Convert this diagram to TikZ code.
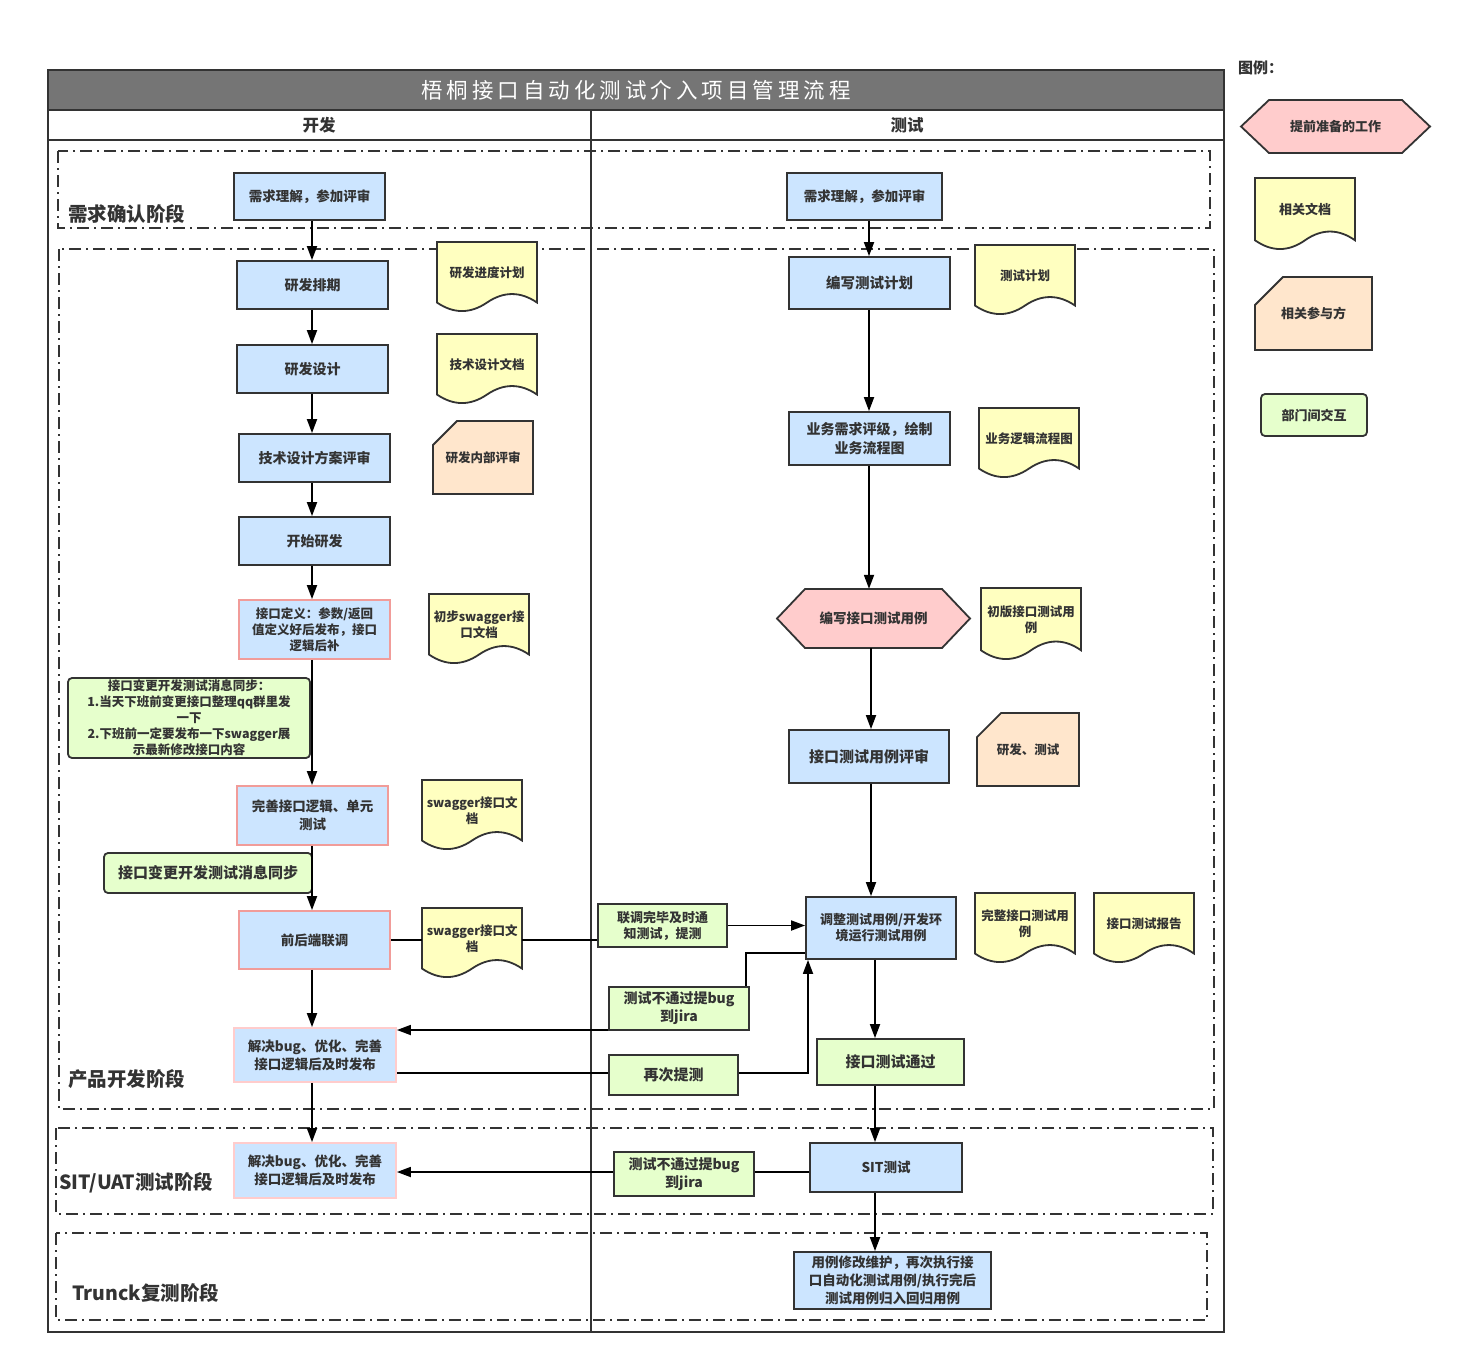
\documentclass[tikz,border=0pt]{standalone}
\usepackage{fontspec}
\setmainfont{Noto Sans CJK SC}
\usetikzlibrary{arrows.meta}
\definecolor{bd}{HTML}{333333}
\definecolor{txt}{HTML}{333333}
\definecolor{blueF}{HTML}{CCE5FF}
\definecolor{pinkA}{HTML}{F19C99}
\definecolor{pinkB}{HTML}{FFCCCC}
\definecolor{greenF}{HTML}{E6FFCC}
\definecolor{yellowF}{HTML}{FFFFC0}
\definecolor{orangeF}{HTML}{FFE6CC}
\definecolor{hexF}{HTML}{FFCCCC}
\definecolor{titleF}{HTML}{757575}
\newcommand\fs[2]{\fontsize{#1}{#2}\selectfont}
\newcommand\ts{\hspace{4pt}}
\newcommand\bx[7]{\node[#1, minimum width={#5-#3}, minimum height={#6-#4}] (#2) at ({(#3+#5)/2},{(#4+#6)/2}) {#7};}
\newcommand\docnode[6]{%
 \pgfmathsetmacro\dW{#4-#2}%
 \pgfmathsetmacro\dD{0.27*(#5-#3)}%
 \filldraw[docst] (#2,#3) -- (#4,#3) -- (#4,#5-0.5*\dD) .. controls (#2+5*\dW/6,#5-1.1*\dD) and (#2+2*\dW/3,#5-1.1*\dD) .. (#2+0.5*\dW,#5-0.5*\dD) .. controls (#2+\dW/3,#5+0.1*\dD) and (#2+\dW/6,#5+0.1*\dD) .. (#2,#5-0.5*\dD) -- cycle;
 \node[doctext, anchor=north west, minimum width=\dW, minimum height={#5-#3-0.5*\dD}] (#1) at (#2,#3) {#6};}
\newcommand\cardnode[7]{%
 \filldraw[cardst] (#2+#6,#3) -- (#4,#3) -- (#4,#5) -- (#2,#5) -- (#2,#3+#6) -- cycle;
 \node[doctext, minimum width={#4-#2}, minimum height={#5-#3}] (#1) at ({(#2+#4)/2},{(#3+#5)/2}) {#7};}
\newcommand\hexnode[6]{%
 \filldraw[hexst] (#2,{(#3+#5)/2}) -- (#2+28,#3) -- (#4-28,#3) -- (#4,{(#3+#5)/2}) -- (#4-28,#5) -- (#2+28,#5) -- cycle;
 \node[doctext, font=\bfseries\fs{13.5}{17}, minimum width={#4-#2}, minimum height={#5-#3}] (#1) at ({(#2+#4)/2},{(#3+#5)/2}) {#6};}
\tikzset{
 box/.style={draw=bd, line width=1.8, inner sep=0, align=center, text=txt, font=\bfseries\fs{14}{18}},
 pbox/.style={box, fill=blueF},
 pka/.style={box, fill=blueF, draw=pinkA},
 pkb/.style={box, fill=blueF, draw=pinkB},
 gbox/.style={box, fill=greenF},
 grbox/.style={gbox, rounded corners=4},
 docst/.style={draw=bd, fill=yellowF, line width=1.8},
 cardst/.style={draw=bd, fill=orangeF, line width=1.8},
 hexst/.style={draw=bd, fill=hexF, line width=1.8},
 doctext/.style={inner sep=0, align=center, text=txt, font=\bfseries\fs{12.5}{16}},
 arr/.style={draw=black, line width=1.8, -{Triangle[length=14pt,width=10pt]}},
 cline/.style={draw=black, line width=1.8},
 phase/.style={draw=bd, line width=1.6, dash pattern=on 12pt off 5pt on 2pt off 5pt},
 phlabel/.style={anchor=west, inner sep=0, text=txt, font=\bfseries\fs{19.5}{22}},
 hdr/.style={inner sep=0, text=txt, font=\bfseries\fs{16.5}{18}}
}
\begin{document}
\begin{tikzpicture}[x=1pt,y=-1pt]
\useasboundingbox (0,0) rectangle (1461,1365);
\fill[white] (0,0) rectangle (1461,1365);
% frame
\fill[titleF] (48,70) rectangle (1224,110);
\draw[bd, line width=2] (48,70) rectangle (1224,1332);
\draw[bd, line width=2] (48,110) -- (1224,110);
\draw[bd, line width=2] (48,140) -- (1224,140);
\draw[bd, line width=2] (591,110) -- (591,1332);
\node[inner sep=0, text=white, font=\fs{21.5}{24}] (title) at (636,90) {梧\ts 桐\ts 接\ts 口\ts 自\ts 动\ts 化\ts 测\ts 试\ts 介\ts 入\ts 项\ts 目\ts 管\ts 理\ts 流\ts 程};
\node[hdr] (hdev) at (319,125) {开发};
\node[hdr] (htest) at (907,125) {测试};
% phases
\draw[phase] (58,151) rectangle (1210,228);
\draw[phase] (59,249) rectangle (1214,1109);
\draw[phase] (56,1128) rectangle (1213,1214);
\draw[phase] (56,1233) rectangle (1207,1320);
\node[phlabel] (ph1) at (68,214) {需求确认阶段};
\node[phlabel] (ph2) at (68,1079) {产品开发阶段};
\node[phlabel] (ph3) at (59,1183) {SIT/UAT测试阶段};
\node[phlabel] (ph4) at (72,1293) {Trunck复测阶段};
% legend
\node[anchor=west, inner sep=0, text=txt, font=\bfseries\fs{15}{18}] (legt) at (1238,68) {图例：};
\hexnode{hexL}{1241}{100}{1430}{153}{\fs{13}{16}提前准备的工作}
\docnode{docL}{1255}{178}{1355}{250}{\fs{13}{16}相关文档}
\cardnode{cardL}{1255}{277}{1372}{350}{28}{\fs{13}{16}相关参与方}
\bx{grbox, font=\bfseries\fs{13}{16}}{grL}{1261}{394}{1367}{436}{部门间交互}
% dev column
\bx{pbox, font=\bfseries\fs{13.5}{17}}{d1}{234}{173}{385}{220}{需求理解，参加评审}
\bx{pbox}{d2}{237}{261}{388}{309}{研发排期}
\bx{pbox}{d3}{237}{345}{388}{393}{研发设计}
\bx{pbox}{d4}{239}{434}{390}{482}{技术设计方案评审}
\bx{pbox}{d5}{239}{517}{390}{565}{开始研发}
\bx{pka, font=\bfseries\fs{12.5}{16}}{d6}{239}{600}{390}{659}{接口定义：参数/返回\\值定义好后发布，接口\\逻辑后补}
\bx{grbox, font=\bfseries\fs{12.5}{16}}{g1}{68}{678}{310}{758}{接口变更开发测试消息同步：\\1.当天下班前变更接口整理qq群里发\\一下\\2.下班前一定要发布一下swagger展\\示最新修改接口内容}
\bx{pka, font=\bfseries\fs{13.5}{18}}{d7}{237}{786}{388}{845}{完善接口逻辑、单元\\测试}
\bx{grbox, font=\bfseries\fs{15}{18}}{g2}{104}{853}{312}{893}{接口变更开发测试消息同步}
\bx{pka, font=\bfseries\fs{13.5}{18}}{d8}{239}{911}{390}{969}{前后端联调}
\bx{pkb, font=\bfseries\fs{13.5}{18}}{d9}{234}{1028}{396}{1082}{解决bug、优化、完善\\接口逻辑后及时发布}
\bx{pkb, font=\bfseries\fs{13.5}{18}}{d10}{234}{1143}{396}{1198}{解决bug、优化、完善\\接口逻辑后及时发布}
\docnode{doc1}{437}{242}{537}{312}{研发进度计划}
\docnode{doc2}{437}{334}{537}{404}{技术设计文档}
\cardnode{card1}{433}{421}{533}{494}{24}{研发内部评审}
\docnode{doc3}{429}{594}{529}{664}{初步swagger接\\口文档}
\docnode{doc4}{422}{780}{522}{850}{swagger接口文\\档}
\docnode{doc5}{422}{908}{522}{978}{swagger接口文\\档}
% test column
\bx{pbox, font=\bfseries\fs{13.5}{17}}{t1}{787}{173}{942}{220}{需求理解，参加评审}
\bx{pbox, font=\bfseries\fs{14.5}{18}}{t2}{789}{257}{950}{309}{编写测试计划}
\bx{pbox, font=\bfseries\fs{14}{19}}{t3}{789}{412}{950}{465}{业务需求评级，绘制\\业务流程图}
\hexnode{t4}{777}{589}{970}{648}{编写接口测试用例}
\bx{pbox, font=\bfseries\fs{15}{18}}{t5}{789}{730}{949}{783}{接口测试用例评审}
\bx{pbox, font=\bfseries\fs{13}{16}}{t6}{806}{897}{956}{959}{调整测试用例/开发环\\境运行测试用例}
\bx{gbox, font=\bfseries\fs{13}{16}}{g3}{598}{904}{727}{947}{联调完毕及时通\\知测试，提测}
\bx{gbox, font=\bfseries\fs{14}{18}}{g4}{609}{987}{749}{1030}{测试不通过提bug\\到jira}
\bx{gbox, font=\bfseries\fs{15}{18}}{g5}{609}{1055}{738}{1095}{再次提测}
\bx{gbox, font=\bfseries\fs{15}{18}}{g6}{817}{1039}{964}{1085}{接口测试通过}
\bx{pbox, font=\bfseries\fs{13.5}{18}}{t7}{810}{1143}{962}{1192}{SIT测试}
\bx{gbox, font=\bfseries\fs{14}{18}}{g7}{614}{1152}{754}{1196}{测试不通过提bug\\到jira}
\bx{pbox, font=\bfseries\fs{13.5}{18}}{t8}{794}{1252}{991}{1309}{用例修改维护，再次执行接\\口自动化测试用例/执行完后\\测试用例归入回归用例}
\docnode{docT1}{975}{245}{1075}{315}{测试计划}
\docnode{docT2}{979}{408}{1079}{478}{业务逻辑流程图}
\docnode{docT3}{981}{588}{1081}{660}{初版接口测试用\\例}
\cardnode{cardT}{977}{713}{1079}{786}{24}{研发、测试}
\docnode{docT4}{975}{893}{1075}{963}{完整接口测试用\\例}
\docnode{docT5}{1094}{893}{1194}{963}{接口测试报告}
% vertical arrows
\coordinate (cD) at (312,0);
\draw[arr] (d1.south -| cD) -- (d2.north -| cD);
\draw[arr] (d2.south -| cD) -- (d3.north -| cD);
\draw[arr] (d3.south -| cD) -- (d4.north -| cD);
\draw[arr] (d4.south -| cD) -- (d5.north -| cD);
\draw[arr] (d5.south -| cD) -- (d6.north -| cD);
\draw[arr] (d6.south -| cD) -- (d7.north -| cD);
\draw[arr] (d7.south -| cD) -- (d8.north -| cD);
\draw[arr] (d8.south -| cD) -- (d9.north -| cD);
\draw[arr] (d9.south -| cD) -- (d10.north -| cD);
\coordinate (cT) at (869,0);
\coordinate (cT2) at (871,0);
\coordinate (cT3) at (875,0);
\draw[arr] (t1.south -| cT) -- (t2.north -| cT);
\draw[arr] (t2.south -| cT) -- (t3.north -| cT);
\draw[arr] (t3.south -| cT) -- (t4.north -| cT);
\draw[arr] (t4.south -| cT2) -- (t5.north -| cT2);
\draw[arr] (t5.south -| cT2) -- (t6.north -| cT2);
\draw[arr] (t6.south -| cT3) -- (g6.north -| cT3);
\draw[arr] (g6.south -| cT3) -- (t7.north -| cT3);
\draw[arr] (t7.south -| cT3) -- (t8.north -| cT3);
% horizontal connectors
\draw[cline] (d8.east) -- (d8.east -| doc5.west);
\draw[cline] (d8.east -| doc5.east) -- (d8.east -| g3.west);
\draw[arr] (g3.east) -- (g3.east -| t6.west);
\coordinate (k1) at (746,953);
\draw[cline] (k1 -| t6.west) -- (k1) -- (k1 |- g4.north);
\coordinate (k2) at (0,1030);
\draw[arr] (k2 -| g4.west) -- (k2 -| d9.east);
\coordinate (k3) at (808,1073);
\draw[cline] (k3 -| d9.east) -- (k3 -| g5.west);
\draw[arr] (k3 -| g5.east) -- (k3) -- (k3 |- t6.south);
\coordinate (k5) at (0,1172);
\draw[cline] (k5 -| t7.west) -- (k5 -| g7.east);
\draw[arr] (k5 -| g7.west) -- (k5 -| d10.east);
\end{tikzpicture}
\end{document}
